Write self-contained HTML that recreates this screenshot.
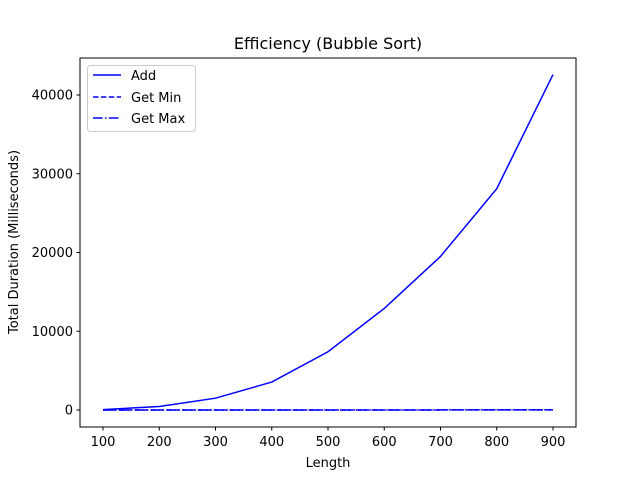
<!DOCTYPE html>
<html><head><meta charset="utf-8"><style>
body{margin:0;background:#fff;}
svg text{font-family:"DejaVu Sans","Liberation Sans",sans-serif;}
</style></head><body>
<svg id="chart" width="640" height="480" xmlns="http://www.w3.org/2000/svg">
<rect width="640" height="480" fill="#fff"/>
<text x="328" y="49" font-size="16" text-anchor="middle">Efficiency (Bubble Sort)</text>
<text x="328" y="467" font-size="13" text-anchor="middle">Length</text>
<text transform="translate(18,242) rotate(-90)" font-size="13" text-anchor="middle">Total Duration (Milliseconds)</text>
<g id="ticks"></g>
<g id="series"></g>
<rect x="80" y="58" width="496" height="369" fill="none" stroke="#000" stroke-width="1"/>
<g>
<rect x="87.5" y="65.5" width="108" height="66" rx="3" fill="#fff" fill-opacity="0.8" stroke="#ccc"/>
<line x1="93" y1="75" x2="121" y2="75" stroke="#00f" stroke-width="1.5"/>
<text x="131" y="80" font-size="13">Add</text>
<line x1="93" y1="97" x2="121" y2="97" stroke="#00f" stroke-width="1.5" stroke-dasharray="5.5,2.4"/>
<text x="131" y="102" font-size="13">Get Min</text>
<line x1="93" y1="118" x2="121" y2="118" stroke="#00f" stroke-width="1.5" stroke-dasharray="9.6,2.4,1.5,2.4"/>
<text x="131" y="123" font-size="13">Get Max</text>
</g>
</svg>
<script>
const lengths=[100,200,300,400,500,600,700,800,900];
const addValues=[50,450,1500,3550,7400,12900,19500,28100,42600];
const getMinValues=[2,3,4,5,6,7,8,9,10];
const getMaxValues=[2,3,4,5,6,7,8,9,10];
const xTicks=[100,200,300,400,500,600,700,800,900];
const yTicks=[0,10000,20000,30000,40000];
const NS="http://www.w3.org/2000/svg";
function sx(v){return 103+(v-100)*450/800;}
function sy(v){return 410-v*315/40000;}
const tg=document.getElementById('ticks');
function mk(t,a,p){const e=document.createElementNS(NS,t);for(const k in a)e.setAttribute(k,a[k]);p.appendChild(e);return e;}
xTicks.forEach(v=>{const x=sx(v);
const l=mk('line',{x1:x,y1:427,x2:x,y2:430.5,stroke:'#000'},tg);


const t=mk('text',{x:x,y:446,'font-size':13,'text-anchor':'middle'},tg);t.textContent=v;

});
yTicks.forEach(v=>{const y=sy(v);
const l=mk('line',{x1:76.5,y1:y,x2:80,y2:y,stroke:'#000'},tg);


const t=mk('text',{x:73,y:y+4.5,'font-size':13,'text-anchor':'end'},tg);t.textContent=v;

});
const sg=document.getElementById('series');
function line(vals,dash,name){const p=mk('polyline',{points:lengths.map((x,i)=>sx(x)+','+sy(vals[i])).join(' '),fill:'none',stroke:'#00f','stroke-width':1.5},sg);
if(dash)p.setAttribute('stroke-dasharray',dash);

}
line(addValues,null,'add-line');
line(getMinValues,'5.5,2.4','get-min-line');
line(getMaxValues,'9.6,2.4,1.5,2.4','get-max-line');
</script>
</body></html>
